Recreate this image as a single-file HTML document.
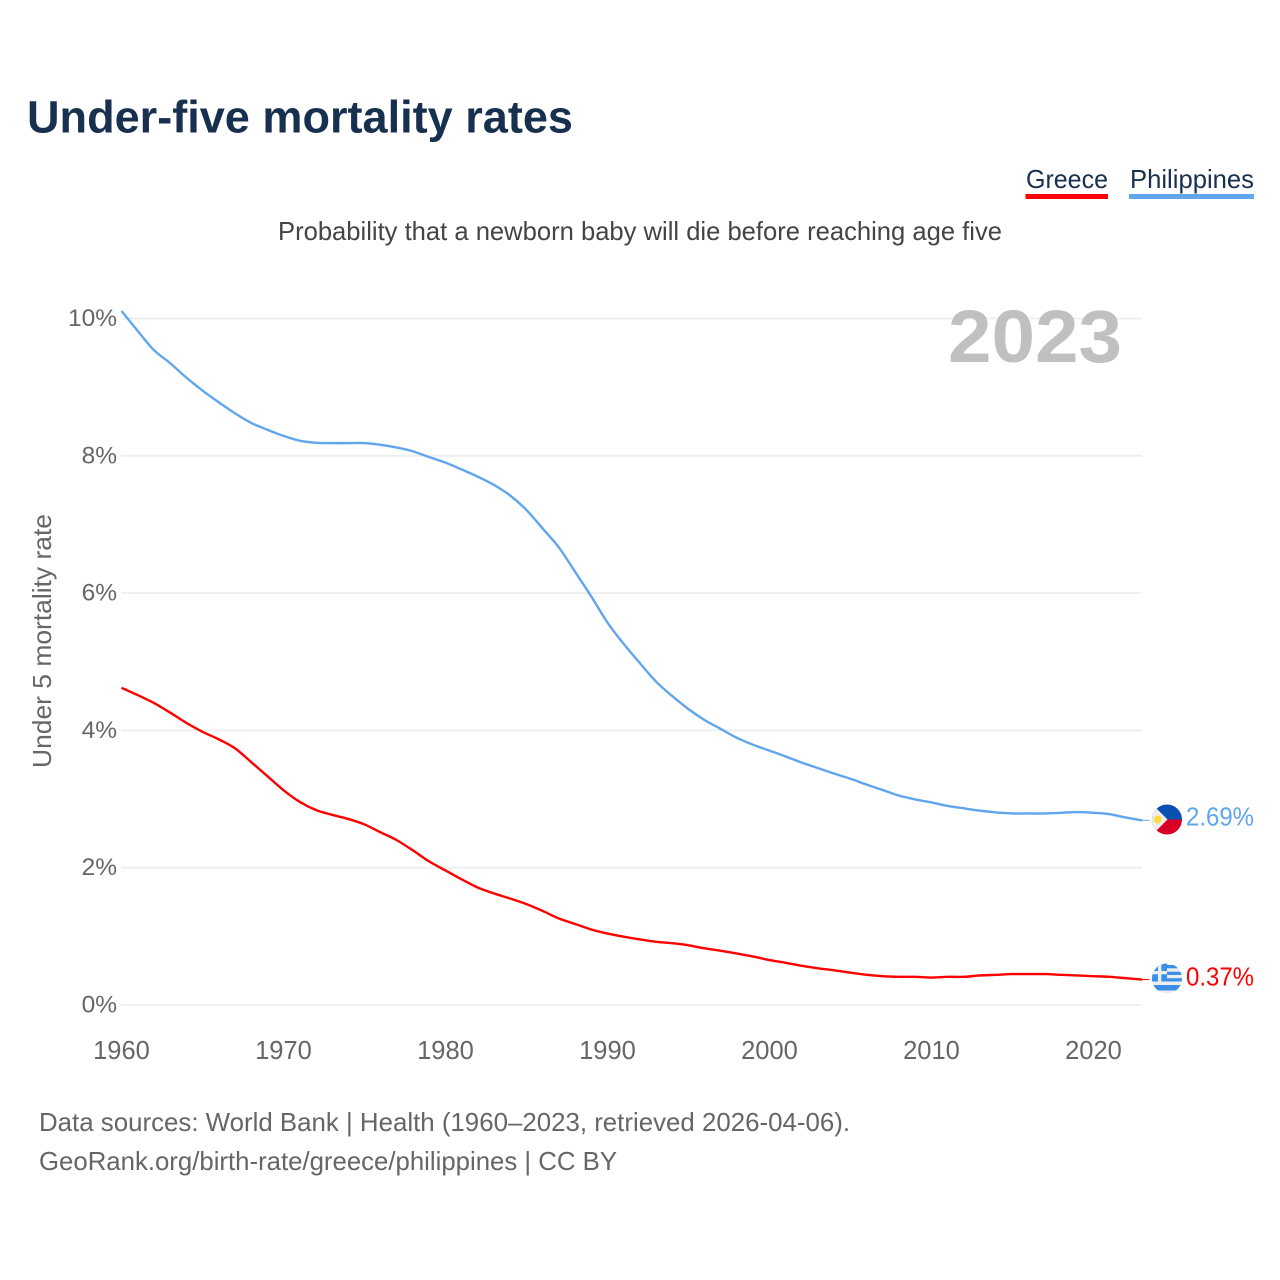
<!DOCTYPE html>
<html lang="en">
<head>
<meta charset="utf-8">
<title>Under-five mortality rates</title>
<style>
  html, body { margin: 0; padding: 0; background: #fff; }
  svg { display: block; font-family: "Liberation Sans", sans-serif; }
</style>
</head>
<body>
<svg id="chart" xmlns="http://www.w3.org/2000/svg" width="1280" height="1280" viewBox="0 0 1280 1280">
  <defs>
    <clipPath id="clip-ph"><circle cx="1167" cy="819.5" r="15"/></clipPath>
    <clipPath id="clip-gr"><circle cx="1167" cy="978.5" r="15"/></clipPath>
  </defs>
  <rect width="1280" height="1280" fill="#fff"/>
  <text x="27" y="132.5" font-size="45" font-weight="700" fill="#18304f" textLength="546" lengthAdjust="spacingAndGlyphs">Under-five mortality rates</text>

  <text x="1026" y="188" font-size="26" fill="#18304f" textLength="82" lengthAdjust="spacingAndGlyphs">Greece</text>
  <rect x="1025.5" y="194" width="82.5" height="5" fill="#ff0000"/>
  <text x="1130" y="188" font-size="26" fill="#18304f" textLength="124" lengthAdjust="spacingAndGlyphs">Philippines</text>
  <rect x="1129" y="194" width="125" height="5" fill="#60a5ee"/>

  <text x="278" y="240" font-size="26" fill="#444" textLength="724" lengthAdjust="spacingAndGlyphs">Probability that a newborn baby will die before reaching age five</text>

  <g id="grid"></g>
  <text x="948" y="362" font-size="74" font-weight="700" fill="#c0c0c0" textLength="174" lengthAdjust="spacingAndGlyphs">2023</text>
  <text transform="translate(51,768) rotate(-90)" font-size="26" fill="#666" textLength="254" lengthAdjust="spacingAndGlyphs">Under 5 mortality rate</text>
  <g id="yticks"></g>
  <g id="xticks"></g>
  <g id="series"></g>

  <g clip-path="url(#clip-ph)">
    <rect x="1152" y="804" width="30" height="16" fill="#0a50b0"/>
    <rect x="1152" y="819.5" width="30" height="16" fill="#d80027"/>
    <polygon points="1151,803 1167.5,819.5 1151,836" fill="#eeeeee"/>
    <circle cx="1157.7" cy="819.5" r="4" fill="#ffda44"/>
  </g>
  <g clip-path="url(#clip-gr)">
    <rect x="1152" y="963" width="30" height="31" fill="#eeeeee"/>
    <rect x="1152" y="965" width="30" height="3.3" fill="#3a8fe8"/>
    <rect x="1152" y="971.7" width="30" height="3.3" fill="#3a8fe8"/>
    <rect x="1152" y="978.2" width="30" height="3.3" fill="#3a8fe8"/>
    <rect x="1152" y="985" width="30" height="5.5" fill="#3a8fe8"/>
    <rect x="1152" y="963" width="15" height="18.5" fill="#3a8fe8"/>
    <rect x="1158" y="963" width="3.3" height="18.5" fill="#eeeeee"/>
    <rect x="1152" y="971" width="15" height="3.3" fill="#eeeeee"/>
  </g>
  <text x="1186" y="825.5" font-size="26" fill="#60a5ee" textLength="68" lengthAdjust="spacingAndGlyphs">2.69%</text>
  <text x="1186" y="985.5" font-size="26" fill="#ff0000" textLength="68" lengthAdjust="spacingAndGlyphs">0.37%</text>

  <text x="39" y="1131" font-size="26" fill="#666" textLength="811" lengthAdjust="spacingAndGlyphs">Data sources: World Bank | Health (1960–2023, retrieved 2026-04-06).</text>
  <text x="39" y="1170" font-size="26" fill="#666" textLength="578" lengthAdjust="spacingAndGlyphs">GeoRank.org/birth-rate/greece/philippines | CC BY</text>
</svg>
<script>
const startYear = 1960;
const philippinesValues = [10.11,9.82,9.54,9.35,9.14,8.95,8.78,8.62,8.48,8.38,8.29,8.22,8.19,8.185,8.185,8.185,8.16,8.12,8.065,7.98,7.90,7.80,7.695,7.575,7.42,7.21,6.94,6.665,6.31,5.95,5.57,5.26,4.98,4.71,4.50,4.31,4.15,4.02,3.89,3.79,3.705,3.62,3.53,3.45,3.37,3.295,3.21,3.13,3.05,2.995,2.95,2.90,2.865,2.83,2.805,2.79,2.79,2.79,2.80,2.81,2.80,2.78,2.73,2.69];
const greeceValues = [4.62,4.515,4.40,4.26,4.11,3.98,3.87,3.74,3.54,3.335,3.13,2.96,2.84,2.77,2.71,2.63,2.515,2.40,2.25,2.09,1.96,1.83,1.71,1.625,1.55,1.47,1.37,1.26,1.18,1.10,1.04,0.995,0.955,0.92,0.90,0.87,0.825,0.79,0.75,0.705,0.655,0.615,0.57,0.535,0.505,0.47,0.44,0.42,0.41,0.41,0.40,0.41,0.41,0.43,0.44,0.45,0.45,0.45,0.44,0.43,0.42,0.41,0.39,0.37];
const yTicks = [0,2,4,6,8,10];
const xTicks = [1960,1970,1980,1990,2000,2010,2020];

const NS = 'http://www.w3.org/2000/svg';
function xScale(year) { return 121.5 + (year - 1960) * 16.2; }
function yScale(value) { return 1005 - value * 68.65; }
function make(tag, attrs, parent) {
  const el = document.createElementNS(NS, tag);
  for (const k in attrs) el.setAttribute(k, attrs[k]);
  parent.appendChild(el);
  return el;
}
const grid = document.getElementById('grid');
const yG = document.getElementById('yticks');
const xG = document.getElementById('xticks');
const seriesG = document.getElementById('series');

yTicks.forEach(function (t) {
  const line = make('line', {x1: 121, x2: 1142, y1: yScale(t), y2: yScale(t), stroke: '#eeeeee', 'stroke-width': 1.8}, grid);
  
  
  const lab = make('text', {x: 117, y: yScale(t) + 7.5, 'text-anchor': 'end', 'font-size': 24.5, fill: '#666'}, yG);
  lab.textContent = t + '%';
  
  
});
xTicks.forEach(function (t) {
  const lab = make('text', {x: xScale(t), y: 1059, 'text-anchor': 'middle', 'font-size': 25.5, fill: '#666'}, xG);
  lab.textContent = t;
  
  
});
function smoothPath(points) {
  let d = 'M' + points[0][0].toFixed(2) + ',' + points[0][1].toFixed(2);
  for (let i = 0; i < points.length - 1; i++) {
    const p0 = points[Math.max(i - 1, 0)];
    const p1 = points[i];
    const p2 = points[i + 1];
    const p3 = points[Math.min(i + 2, points.length - 1)];
    const c1x = p1[0] + (p2[0] - p0[0]) / 6;
    const c1y = p1[1] + (p2[1] - p0[1]) / 6;
    const c2x = p2[0] - (p3[0] - p1[0]) / 6;
    const c2y = p2[1] - (p3[1] - p1[1]) / 6;
    d += 'C' + c1x.toFixed(2) + ',' + c1y.toFixed(2) + ' ' + c2x.toFixed(2) + ',' + c2y.toFixed(2) + ' ' + p2[0].toFixed(2) + ',' + p2[1].toFixed(2);
  }
  return d;
}
function drawSeries(values, color, name) {
  const pts = values.map(function (v, i) { return [xScale(startYear + i), yScale(v)]; });
  const path = make('path', {d: smoothPath(pts), fill: 'none', stroke: color, 'stroke-width': 2.4, 'stroke-linejoin': 'round'}, seriesG);
  
  
  const lastY = yScale(values[values.length - 1]);
  const lead = make('line', {x1: xScale(startYear + values.length - 1), x2: 1149.5, y1: lastY, y2: lastY, stroke: color, 'stroke-width': 1}, seriesG);
  
  
}
drawSeries(philippinesValues, '#60a5ee', 'philippines-line');
drawSeries(greeceValues, '#ff0000', 'greece-line');
</script>
</body>
</html>
